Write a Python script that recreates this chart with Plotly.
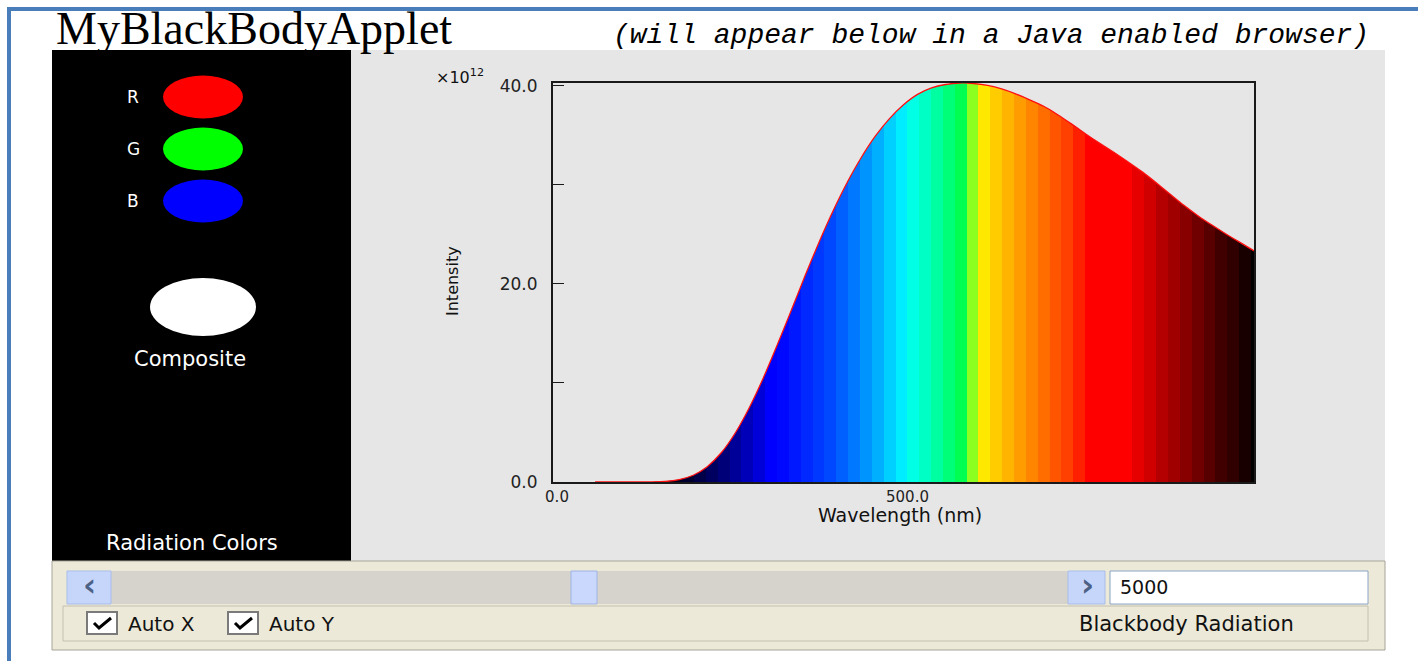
import plotly.graph_objects as go

W, H = 1418, 661

# ---------------- data ----------------
wavelength_nm = [60, 100, 140, 160, 180, 200, 220, 240, 260, 280, 300, 320, 340, 360,
                 380, 400, 420, 440, 460, 480, 500, 520, 540, 560, 580, 600, 620, 640,
                 660, 680, 700, 720, 740, 760, 780, 800, 820, 840, 860, 880, 900, 920,
                 940, 960, 980, 1000]
intensity_e12 = [0.0, 0.0, 0.01, 0.05, 0.24, 0.68, 1.55, 2.95, 4.95, 7.5, 10.5, 13.85,
                 17.35, 20.9, 24.3, 27.45, 30.3, 32.8, 34.95, 36.7, 38.1, 39.15, 39.8,
                 40.15, 40.3, 40.25, 40.05, 39.7, 39.2, 38.6, 37.95, 37.1, 36.15, 35.15,
                 34.2, 33.3, 32.35, 31.35, 30.25, 29.1, 27.95, 26.9, 25.95, 25.05, 24.2,
                 23.35]

# colour strips of the spectrum fill (start wavelength of each strip, last = end)
strip_edges_nm = [184.4, 201.3, 218.2, 235.1, 252.0, 268.9, 285.8, 302.7, 319.6, 336.5,
                  353.4, 370.3, 387.2, 404.1, 421.0, 437.9, 454.8, 471.7, 488.6, 505.5,
                  522.4, 539.3, 556.2, 573.1, 590.0, 606.9, 623.8, 640.7, 657.6, 674.5,
                  691.4, 708.3, 725.2, 742.1, 759.0, 775.9, 792.8, 809.7, 826.6, 843.5,
                  860.4, 877.3, 894.2, 911.1, 928.0, 944.9, 961.8, 978.7, 995.6, 1000.0]
strip_colors = ['#000030', '#000048', '#000060', '#000078', '#000098', '#0000b8', '#0000d8',
                '#0000ff', '#0008ff', '#0018ff', '#0028ff', '#0038ff', '#0048ff', '#0060ff',
                '#0078ff', '#0094ff', '#00b0ff', '#00d0ff', '#00ecff', '#00ffe4', '#00ffc4',
                '#00ffa0', '#00ff78', '#00ff50', '#8cff20', '#ffe800', '#ffcc00', '#ffb400',
                '#ff9c00', '#ff8400', '#ff6c00', '#ff5400', '#ff4000', '#ff2000', '#ff0000',
                '#ff0000', '#ff0000', '#ff0000', '#e60000', '#d00000', '#b40000', '#a00000',
                '#880000', '#700000', '#580000', '#400000', '#300000', '#180000', '#000000']
pre_color = '#000020'

x_tickvals = [0, 500]
x_ticktext = ['0.0', '500.0']
y_tickvals = [0, 20, 40]
y_ticktext = ['0.0', '20.0', '40.0']
y_minor = [10, 30]
x_range = [0, 1000]

temperature_text = '5000'

# ---------------- helpers (pixels -> paper) ----------------
def px(x):
    return x / W

def py(y):
    return 1 - y / H

shapes = []
annotations = []

def rect(x0, y0, x1, y1, fill, line=None, lw=1):
    shapes.append(dict(type='rect', xref='paper', yref='paper',
                       x0=px(x0), x1=px(x1), y0=py(y1), y1=py(y0),
                       fillcolor=fill, line=dict(color=line or fill, width=lw if line else 0),
                       layer='below'))

def ellipse(cx, cy, w, h, fill):
    shapes.append(dict(type='circle', xref='paper', yref='paper',
                       x0=px(cx - w / 2), x1=px(cx + w / 2), y0=py(cy + h / 2), y1=py(cy - h / 2),
                       fillcolor=fill, line=dict(width=0), layer='below'))

def text(x, y, s, size=19, color='#000', family='DejaVu Sans', xanchor='center',
         style='normal', weight='normal', angle=0):
    annotations.append(dict(xref='paper', yref='paper', x=px(x), y=py(y), text=s,
                            showarrow=False, xanchor=xanchor, yanchor='middle',
                            textangle=angle,
                            font=dict(size=size, color=color, family=family,
                                      style=style, weight=weight)))

def checkbox(x0, y0):
    rect(x0, y0, x0 + 30, y0 + 22, '#ffffff', '#7a7a7a', 2)
    p = 'M {},{} L {},{} L {},{}'.format(px(x0 + 7), py(y0 + 11), px(x0 + 12), py(y0 + 16),
                                          px(x0 + 24), py(y0 + 6))
    shapes.append(dict(type='path', xref='paper', yref='paper', path=p,
                       line=dict(color='#000000', width=3), layer='above'))

# ---------------- page decoration ----------------
rect(7, 7, 1418, 11, '#4a7ebb')
rect(7, 7, 11, 661, '#4a7ebb')

rect(52, 50, 351, 561, '#000000')
rect(351, 50, 1385, 561, '#e6e6e6')
rect(52, 561, 1385, 650, '#ece9d8', '#a8a498', 1)
rect(63, 606, 1368, 641, '#ece9d8', '#c4c0b0', 1)

# scrollbar
rect(111, 571, 1068, 604, '#d6d3cc')
rect(67, 571, 111, 604, '#c6d6fb', '#a9bde9', 1)
rect(1068, 571, 1105, 604, '#c6d6fb', '#a9bde9', 1)
rect(571, 571, 597, 604, '#c9d8fc', '#9fb4e4', 1)
rect(1110, 571, 1368, 604, '#ffffff', '#8aa4c6', 1)
text(89, 585, '‹', size=32, color='#4d6185', weight='bold')
text(1087, 585, '›', size=32, color='#4d6185', weight='bold')
text(1118, 587, temperature_text, size=19, color='#111', xanchor='left')

checkbox(87, 612)
checkbox(228, 612)
text(126, 624, 'Auto X', size=20, color='#111', xanchor='left')
text(267, 624, 'Auto Y', size=20, color='#111', xanchor='left')
text(1186, 624, 'Blackbody Radiation', size=21, color='#111')

# left colour panel
for label, cy, col in [('R', 97, '#ff0000'), ('G', 149, '#00ff00'), ('B', 201, '#0000ff')]:
    ellipse(203, cy, 80, 43, col)
    text(133, cy, label, size=17, color='#ffffff')
ellipse(203, 307, 106, 58, '#ffffff')
text(190, 359, 'Composite', size=21, color='#ffffff')
text(192, 543, 'Radiation Colors', size=21, color='#ffffff')

# titles
text(54, 29, 'MyBlackBodyApplet', size=46, color='#000', family='Liberation Serif',
     xanchor='left')
text(611, 36, '(will appear below in a Java enabled browser)', size=28, color='#000',
     family='Liberation Mono', xanchor='left', style='italic')

# axis labels
text(453, 281, 'Intensity', size=16, color='#111', angle=-90)
text(900, 515, 'Wavelength (nm)', size=19, color='#111')
text(486, 76, '×10<sup>12</sup>', size=16, color='#111', xanchor='right')

# ---------------- spectrum fill (discrete colour strips) ----------------
g_start, g_stop = wavelength_nm[0], x_range[1]
cs = [[0.0, pre_color]]
prev = pre_color
for e, c in zip(strip_edges_nm[:-1], strip_colors):
    f = (e - g_start) / (g_stop - g_start)
    cs.append([f, prev])
    cs.append([f, c])
    prev = c
cs.append([1.0, prev])

fig = go.Figure()
fig.add_trace(go.Scatter(
    x=wavelength_nm, y=intensity_e12, mode='lines',
    line=dict(color='#ff1010', width=1.3, shape='spline', smoothing=0.6),
    fill='tozeroy',
    fillgradient=dict(type='horizontal', start=g_start, stop=g_stop, colorscale=cs),
    hoverinfo='skip', showlegend=False))

fig.update_layout(
    width=W, height=H, margin=dict(l=0, r=0, t=0, b=0, autoexpand=False),
    paper_bgcolor='#ffffff', plot_bgcolor='rgba(0,0,0,0)',
    shapes=shapes, annotations=annotations, showlegend=False,
    xaxis=dict(domain=[px(553), px(1254)], range=x_range, tickvals=x_tickvals,
               ticktext=x_ticktext, ticks='', showgrid=False, zeroline=False,
               showline=True, mirror=True, linecolor='#1a1a1a', linewidth=2,
               tickfont=dict(family='DejaVu Sans', size=15, color='#222'),
               ticklabelshift=4, automargin=False, fixedrange=True),
    yaxis=dict(domain=[py(482), py(83)], range=[0, max(intensity_e12)], tickvals=y_tickvals,
               ticktext=y_ticktext, ticks='inside', ticklen=11, tickcolor='#1a1a1a',
               minor=dict(tickvals=y_minor, ticks='inside', ticklen=11, tickcolor='#1a1a1a'),
               showgrid=False, zeroline=False, showline=True, mirror=True,
               linecolor='#1a1a1a', linewidth=2, ticklabelstandoff=10,
               tickfont=dict(family='DejaVu Sans', size=17, color='#222'),
               automargin=False, fixedrange=True),
)

fig.write_html("out.html", config={'displayModeBar': False},
               post_script="document.body.style.margin='0';")
